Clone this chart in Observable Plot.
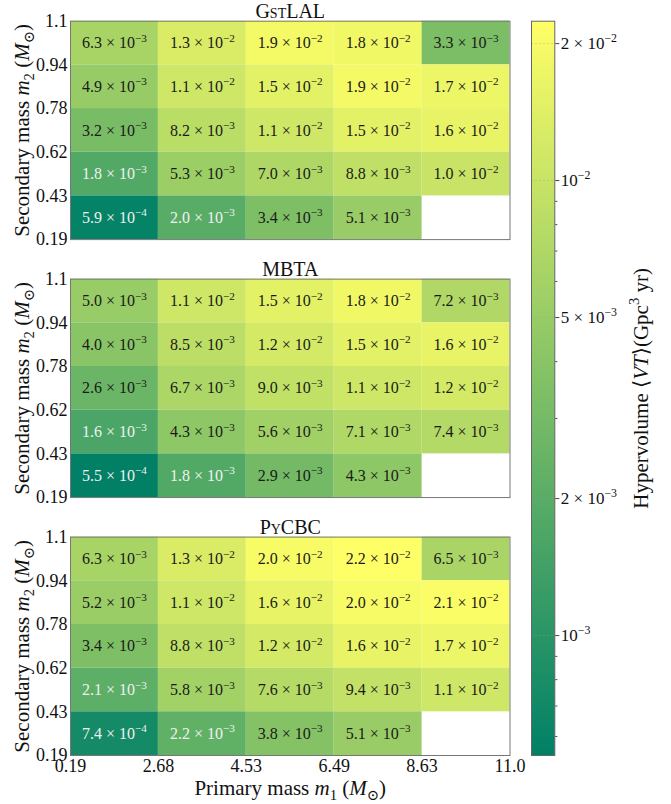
<!DOCTYPE html>
<html><head><meta charset="utf-8">
<script src="https://cdn.jsdelivr.net/npm/d3@7"></script>
<script src="https://cdn.jsdelivr.net/npm/@observablehq/plot@0.6"></script>
<style>
body{margin:0;background:#fff}
#wrap{position:relative;width:671px;height:804px}
#wrap svg{position:absolute;top:0}
</style>
</head><body><div id="wrap"></div>
<script>
const detectors = ["GstLAL", "MBTA", "PyCBC"];
const m1Ticks = ["0.19", "2.68", "4.53", "6.49", "8.63", "11.0"];
const m2Ticks = ["0.19", "0.43", "0.62", "0.78", "0.94", "1.1"];
// rows: top bin (m2 0.94–1.1) first, bottom bin (m2 0.19–0.43) last; columns: m1 bins left to right
const gstlal = [
  [6.3e-3, 1.3e-2, 1.9e-2, 1.8e-2, 3.3e-3],
  [4.9e-3, 1.1e-2, 1.5e-2, 1.9e-2, 1.7e-2],
  [3.2e-3, 8.2e-3, 1.1e-2, 1.5e-2, 1.6e-2],
  [1.8e-3, 5.3e-3, 7.0e-3, 8.8e-3, 1.0e-2],
  [5.9e-4, 2.0e-3, 3.4e-3, 5.1e-3, null]
];
const mbta = [
  [5.0e-3, 1.1e-2, 1.5e-2, 1.8e-2, 7.2e-3],
  [4.0e-3, 8.5e-3, 1.2e-2, 1.5e-2, 1.6e-2],
  [2.6e-3, 6.7e-3, 9.0e-3, 1.1e-2, 1.2e-2],
  [1.6e-3, 4.3e-3, 5.6e-3, 7.1e-3, 7.4e-3],
  [5.5e-4, 1.8e-3, 2.9e-3, 4.3e-3, null]
];
const pycbc = [
  [6.3e-3, 1.3e-2, 2.0e-2, 2.2e-2, 6.5e-3],
  [5.2e-3, 1.1e-2, 1.6e-2, 2.0e-2, 2.1e-2],
  [3.4e-3, 8.8e-3, 1.2e-2, 1.6e-2, 1.7e-2],
  [2.1e-3, 5.8e-3, 7.6e-3, 9.4e-3, 1.1e-2],
  [7.4e-4, 2.2e-3, 3.8e-3, 5.1e-3, null]
];
const vtMin = 5.45e-4, vtMax = 2.24e-2;
const cbMajor = [1e-3, 2e-3, 5e-3, 1e-2, 2e-2];
const cbMajorLabels = ["10^{−3}", "2 × 10^{−3}", "5 × 10^{−3}", "10^{−2}", "2 × 10^{−2}"];
const cbMinor = [6e-4, 7e-4, 8e-4, 9e-4, 3e-3, 4e-3, 6e-3, 7e-3, 8e-3, 9e-3];

const tables = {GstLAL: gstlal, MBTA: mbta, PyCBC: pycbc};
const cells = [];
for (const det of detectors) {
  tables[det].forEach((row, r) => row.forEach((v, c) => {
    if (v != null) cells.push({det, col: c, row: row.length - 1 - r, v});
  }));
}
function fmt(v) {
  let e = Math.floor(Math.log10(v));
  let m = (v / Math.pow(10, e));
  if (+m.toFixed(1) >= 10) { e += 1; m = v / Math.pow(10, e); }
  return m.toFixed(1) + " × 10^{" + String(e).replace("-", "−") + "}";
}

const FONT = "'Liberation Serif', 'DejaVu Serif', serif";
const INK = "#111";
const colorOpts = {type: "log", domain: [vtMin, vtMax], range: ["rgb(0,128,102)", "rgb(255,255,102)"], interpolate: "rgb"};

const chart = Plot.plot({
  width: 671, height: 804,
  marginLeft: 70, marginRight: 161.5, marginTop: 20.7, marginBottom: 49,
  style: {fontFamily: FONT, fontSize: "18px", color: INK, background: "transparent"},
  x: {domain: [0, 5], axis: null},
  y: {domain: [0, 5], axis: null},
  fy: {domain: detectors, paddingInner: 0.1533, paddingOuter: 0, round: false, axis: null},
  color: colorOpts,
  marks: [
    Plot.rect(cells, {x1: "col", x2: d => d.col + 1, y1: "row", y2: d => d.row + 1, fy: "det", fill: "v"}),
    Plot.text(cells, {x: d => d.col + 0.5, y: d => d.row + 0.5, fy: "det", text: d => fmt(d.v),
      fill: d => d.v < 2.4e-3 ? "#f0f0f0" : "#1a1a1a", fontSize: 16}),
    Plot.frame({stroke: "#777", strokeWidth: 1}),
    Plot.axisY(d3.range(6), {anchor: "left", tickSize: 0, tickPadding: 3, tickFormat: i => m2Ticks[i], label: null, fontSize: 18}),
    Plot.axisX(d3.range(6), {anchor: "bottom", tickSize: 0, tickPadding: 4, tickFormat: i => m1Ticks[i], label: null, fontSize: 18}),
    Plot.text(detectors, {fy: d => d, text: d => d, frameAnchor: "top", lineAnchor: "bottom", dy: -3, fontSize: 20, fontVariant: "small-caps", fill: INK}),
    Plot.text(detectors, {fy: d => d, text: () => "Secondary mass *m*_{2} (*M*_{⊙})", frameAnchor: "left", textAnchor: "middle", lineAnchor: "middle", rotate: -90, dx: -48, fontSize: 21, fill: INK}),
    Plot.text(["PyCBC"], {fy: d => d, text: () => "Primary mass *m*_{1} (*M*_{⊙})", frameAnchor: "bottom", lineAnchor: "middle", dy: 33, fontSize: 21, fill: INK})
  ]
});

const cscale = Plot.scale({color: colorOpts});
const cbar = Plot.plot({
  width: 151, height: 804,
  marginLeft: 11, marginRight: 116.7, marginTop: 20.7, marginBottom: 49,
  style: {fontFamily: FONT, fontSize: "17px", color: INK, background: "transparent"},
  x: {domain: [0, 1], axis: null},
  y: {type: "log", domain: [vtMin, vtMax], axis: null},
  marks: [
    Plot.frame({fill: "url(#cbgrad)"}),
    Plot.ruleY(cbMajor, {stroke: "#999", strokeOpacity: 0.35, strokeDasharray: "2,2"}),
    Plot.frame({stroke: "#666", strokeWidth: 1}),
    Plot.axisY(cbMinor, {anchor: "right", tickSize: 2, tickFormat: () => "", stroke: "#444", label: null}),
    Plot.axisY(cbMajor, {anchor: "right", tickSize: 4, tickPadding: 2, tickFormat: d => cbMajorLabels[cbMajor.indexOf(d)], stroke: "#444", label: null, fontSize: 17}),
    Plot.text(["Hypervolume ⟨*VT*⟩(Gpc^{3} yr)"], {text: d => d, frameAnchor: "right", textAnchor: "middle", lineAnchor: "middle", rotate: -90, dx: 86, fontSize: 21, fill: INK})
  ]
});

const wrap = document.getElementById("wrap");
chart.style.left = "0px";
cbar.style.left = "520px";
wrap.appendChild(chart);
wrap.appendChild(cbar);

// gradient for the colorbar, from the color scale endpoints
const ns = "http://www.w3.org/2000/svg";
const defs = document.createElementNS(ns, "defs");
const grad = document.createElementNS(ns, "linearGradient");
grad.setAttribute("id", "cbgrad");
grad.setAttribute("x1", "0"); grad.setAttribute("y1", "1");
grad.setAttribute("x2", "0"); grad.setAttribute("y2", "0");
[[0, vtMin], [1, vtMax]].forEach(([o, v]) => {
  const s = document.createElementNS(ns, "stop");
  s.setAttribute("offset", o);
  s.setAttribute("stop-color", cscale.apply(v));
  grad.appendChild(s);
});
defs.appendChild(grad);
cbar.insertBefore(defs, cbar.firstChild);

// rich text: *italic*, ^{sup}, _{sub}
function rich(svg) {
  svg.querySelectorAll("text").forEach(t => {
    if (t.querySelector("tspan")) return;
    const s = t.textContent;
    if (!/[\*]|\^\{|_\{/.test(s)) return;
    const fs = parseFloat(getComputedStyle(t).fontSize) || 15;
    t.textContent = "";
    let italic = false, shift = 0, buf = "", i = 0;
    const push = (str, sh, it) => {
      if (!str) return;
      const ts = document.createElementNS(ns, "tspan");
      ts.textContent = str;
      if (it) ts.setAttribute("font-style", "italic");
      const dy = sh - shift;
      if (dy) ts.setAttribute("dy", dy.toFixed(2));
      if (sh !== 0) ts.setAttribute("font-size", (fs * 0.7).toFixed(2));
      shift = sh;
      t.appendChild(ts);
    };
    while (i < s.length) {
      const ch = s[i];
      if (ch === "*") { push(buf, 0, italic); buf = ""; italic = !italic; i++; }
      else if ((ch === "^" || ch === "_") && s[i + 1] === "{") {
        push(buf, 0, italic); buf = "";
        const j = s.indexOf("}", i);
        push(s.slice(i + 2, j), ch === "^" ? -0.4 * fs : 0.25 * fs, false);
        i = j + 1;
      } else { buf += ch; i++; }
    }
    push(buf, 0, italic);
  });
}
rich(chart);
rich(cbar);
</script>
</body></html>
